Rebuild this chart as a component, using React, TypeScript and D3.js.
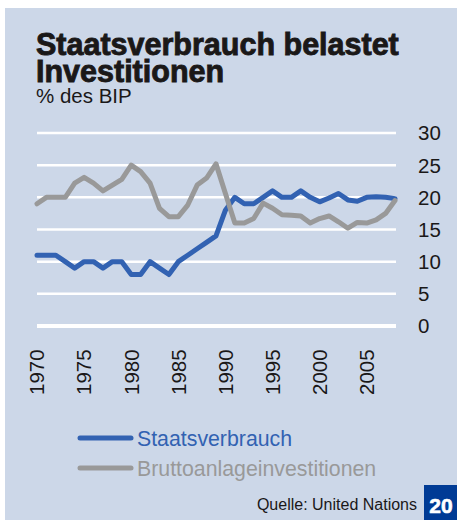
import React from "react";
import * as d3 from "d3";

const years = [1970,1971,1972,1973,1974,1975,1976,1977,1978,1979,1980,1981,1982,1983,1984,1985,1986,1987,1988,1989,1990,1991,1992,1993,1994,1995,1996,1997,1998,1999,2000,2001,2002,2003,2004,2005,2006,2007,2008];
const staatsverbrauch = [11,11,11,10,9,10,10,9,10,10,8,8,10,9,8,10,11,12,13,14,18,20,19,19,20,21,20,20,21,20,19.3,19.9,20.6,19.6,19.4,20,20.1,20,19.8];
const brutto = [19,20,20,20,22.2,23.1,22.2,21,21.9,22.8,25,24,22.2,18.3,17,17,18.8,21.9,23,25.2,20.6,16,16,16.7,19.1,18.3,17.3,17.2,17.1,16,16.7,17.1,16.2,15.2,16.1,16,16.5,17.5,19.5];
const yTicks = [0,5,10,15,20,25,30];
const xTicks = [1970,1975,1980,1985,1990,1995,2000,2005];
const seriesNames = ["Staatsverbrauch", "Bruttoanlageinvestitionen"];

const BG = "#ccd7e8";
const BLUE = "#3262b2";
const GRAY = "#999999";
const FONT = "'Liberation Sans', Arial, Helvetica, sans-serif";

export default function App() {
  const x = d3.scaleLinear().domain([1970, 2008]).range([37, 395]);
  const y = d3.scaleLinear().domain([0, 30]).range([326, 133]);
  const line = d3
    .line<number>()
    .x((_, i) => x(years[i]))
    .y((d) => y(d));

  return (
    <svg
      width={462}
      height={520}
      style={{ position: "absolute", left: 0, top: 0 }}
      fontFamily={FONT}
    >
      <rect x={0} y={0} width={462} height={520} fill="#ffffff" />
      <rect x={5} y={8} width={452} height={512} fill={BG} />

      <text x={36} y={55} fill="#1a1818">
        <tspan x={36} y={55} fontSize={30.5} fontWeight={900} stroke="#1a1818" strokeWidth={0.9}>
          Staatsverbrauch belastet
        </tspan>
        <tspan x={36} y={82} fontSize={30.5} fontWeight={900} stroke="#1a1818" strokeWidth={0.9}>
          Investitionen
        </tspan>
        <tspan x={36} y={103} fontSize={20.5}>
          % des BIP
        </tspan>
      </text>

      {yTicks.map((t) => (
        <g key={t}>
          <line
            x1={37}
            x2={396}
            y1={y(t)}
            y2={y(t)}
            stroke="#ffffff"
            strokeWidth={t === 0 ? 4 : 2.5}
          />
          <text x={418} y={y(t)} dy="0.36em" fontSize={20.5} fill="#1a1818">
            {t}
          </text>
        </g>
      ))}

      {xTicks.map((t) => (
        <text
          key={t}
          transform={`translate(${x(t)},395) rotate(-90)`}
          dy="0.36em"
          fontSize={20.5}
          fill="#1a1818"
          textAnchor="start"
        >
          {t}
        </text>
      ))}

      <path d={line(staatsverbrauch) || ""} fill="none" stroke={BLUE} strokeWidth={5} strokeLinejoin="round" strokeLinecap="round" />
      <path d={line(brutto) || ""} fill="none" stroke={GRAY} strokeWidth={5} strokeLinejoin="round" strokeLinecap="round" />

      <line x1={80} x2={131} y1={438} y2={438} stroke={BLUE} strokeWidth={5} strokeLinecap="round" />
      <text x={137} y={445.5} fontSize={21.3} fill={BLUE}>
        {seriesNames[0]}
      </text>
      <line x1={80} x2={131} y1={468} y2={468} stroke={GRAY} strokeWidth={5} strokeLinecap="round" />
      <text x={137} y={475.5} fontSize={21.3} fill={GRAY}>
        {seriesNames[1]}
      </text>

      <text x={417} y={510} fontSize={16} fill="#1a1818" textAnchor="end">
        Quelle: United Nations
      </text>
      <rect x={424} y={485} width={33} height={35} fill="#003b95" />
      <text x={441} y={513} fontSize={21} fontWeight={900} fill="#ffffff" textAnchor="middle" stroke="#ffffff" strokeWidth={0.6}>
        20
      </text>
    </svg>
  );
}
